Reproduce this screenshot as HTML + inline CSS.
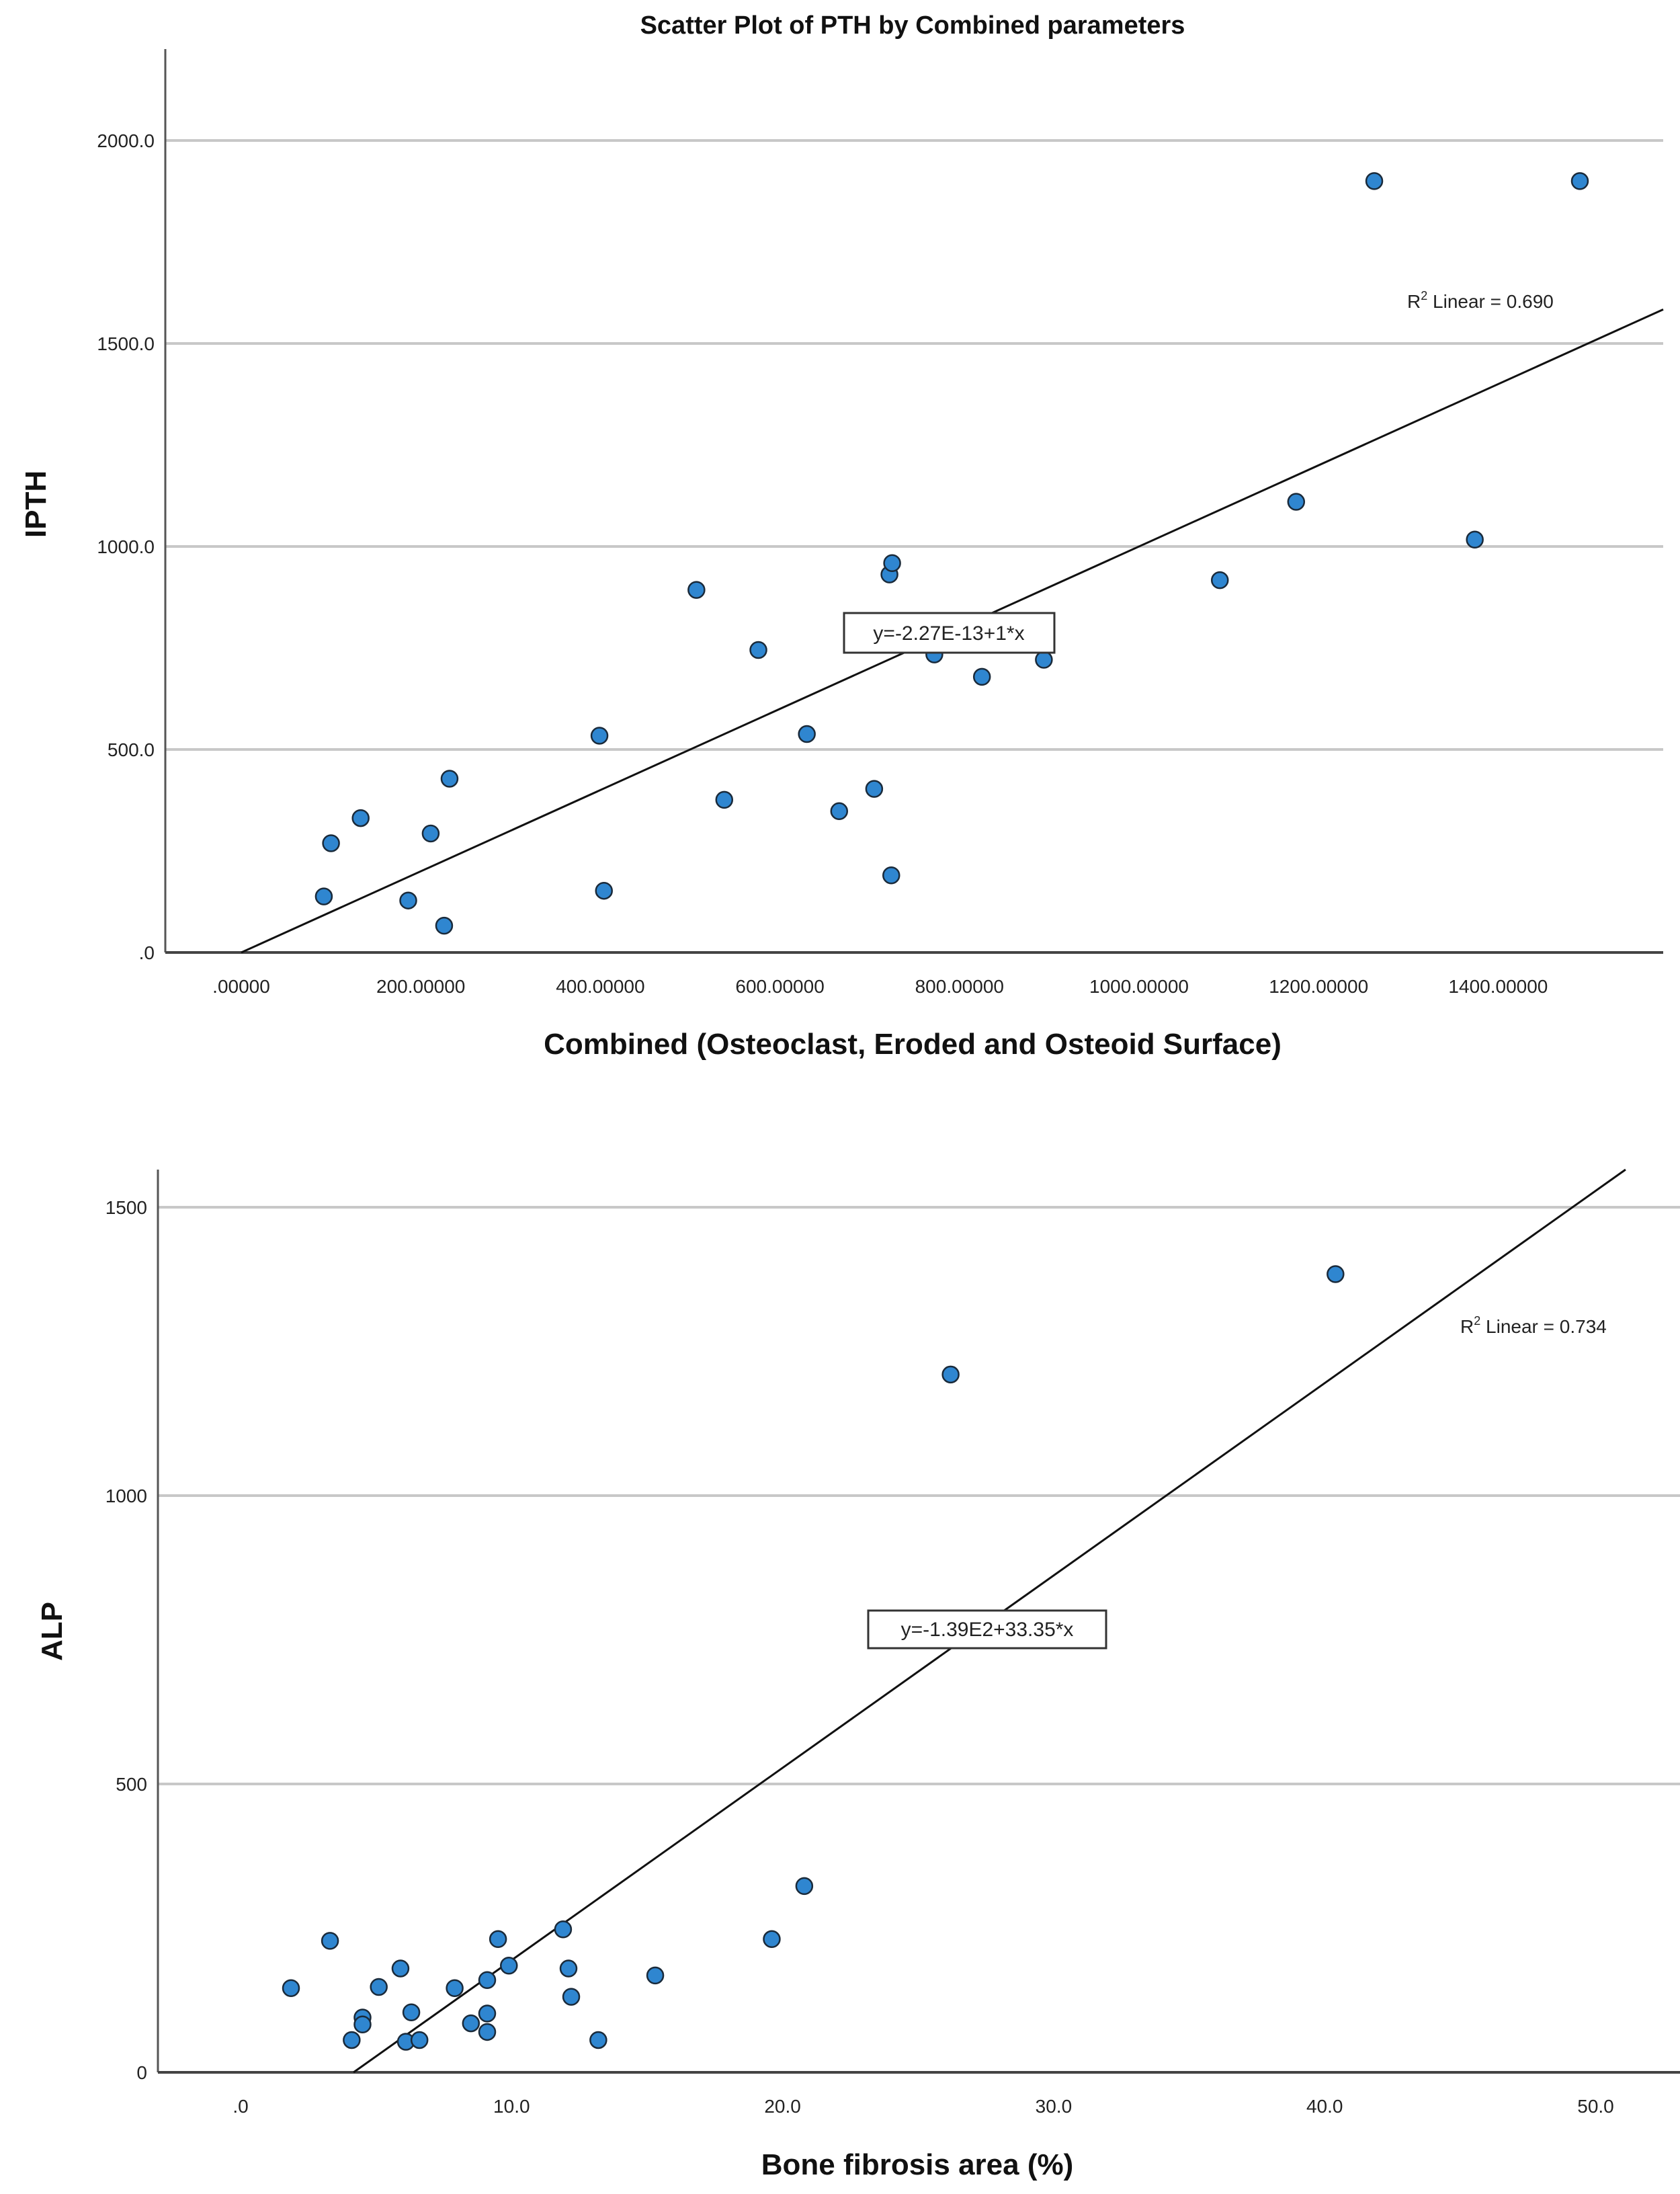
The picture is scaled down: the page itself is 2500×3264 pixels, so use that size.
<!DOCTYPE html>
<html><head><meta charset="utf-8"><style>
html,body{margin:0;padding:0;background:#fff;}
svg{display:block;font-family:"Liberation Sans",Arial,sans-serif;}
</style></head><body>
<svg id="svg" width="2500" height="3264" viewBox="0 0 2500 3264" xmlns="http://www.w3.org/2000/svg">
<rect width="2500" height="3264" fill="#fff"/>
<g id="topchart"></g>
<g id="botchart"></g>
</svg>
<script>
// Top chart data
const pthX = [92,100,133,186,211,226,232,399,404,507,538,576,630,666,705,722,725,724,772,825,894,1090,1175,1262,1374,1491];
const pthY = [138,269,331,128,293,66,428,534,152,893,376,745,538,348,403,931,959,190,734,679,721,917,1110,1900,1017,1900];
const pthXTicks = [0,200,400,600,800,1000,1200,1400];
const pthXTickLabels = [".00000","200.00000","400.00000","600.00000","800.00000","1000.00000","1200.00000","1400.00000"];
const pthYTicks = [0,500,1000,1500,2000];
const pthYTickLabels = [".0","500.0","1000.0","1500.0","2000.0"];
const pthFit = [-2.27e-13, 1];
// Bottom chart data
const alpX = [1.86,3.3,4.1,4.5,4.5,5.1,5.9,6.1,6.3,6.6,7.9,8.5,9.1,9.1,9.1,9.5,9.9,11.9,12.1,12.2,13.2,15.3,19.6,20.8,26.2,40.4];
const alpY = [146,228,56,95,83,148,180,53,104,56,146,85,160,102,70,231,185,248,180,131,56,168,231,323,1210,1384];
const alpXTicks = [0,10,20,30,40,50];
const alpXTickLabels = [".0","10.0","20.0","30.0","40.0","50.0"];
const alpYTicks = [0,500,1000,1500];
const alpYTickLabels = ["0","500","1000","1500"];
const alpFit = [-139, 33.35];

const NS="http://www.w3.org/2000/svg";
function mk(parent,tag,attrs,text){const e=document.createElementNS(NS,tag);for(const k in attrs)e.setAttribute(k,attrs[k]);if(text!==undefined)e.textContent=text;parent.appendChild(e);return e;}

function chart(g,cfg){
  const sx=v=>cfg.x0+v*cfg.kx, sy=v=>cfg.y0-v*cfg.ky;
  cfg.yTicks.forEach((t,i)=>{
    if(t>0){const l=mk(g,'line',{x1:cfg.left,x2:cfg.right,y1:sy(t),y2:sy(t),stroke:'#c8c8c8','stroke-width':4});
    
    }
    const tx=mk(g,'text',{x:cfg.left-16,y:sy(t)+10,'font-size':28,'text-anchor':'end',fill:'#222'},cfg.yLabels[i]);
    
    
  });
  cfg.xTicks.forEach((t,i)=>{
    const tx=mk(g,'text',{x:sx(t),y:cfg.y0+60,'font-size':28,'text-anchor':'middle',fill:'#222'},cfg.xLabels[i]);
    
    
  });
  const ya=mk(g,'line',{x1:cfg.left,x2:cfg.left,y1:cfg.top,y2:cfg.y0,stroke:'#555','stroke-width':3});
  
  
  const xa=mk(g,'line',{x1:cfg.left,x2:cfg.right,y1:cfg.y0,y2:cfg.y0,stroke:'#444','stroke-width':4});
  
  
  const a=cfg.fit[0],b=cfg.fit[1];
  let xs=Math.max(0,-a/b); let xe=(cfg.right-cfg.x0)/cfg.kx;
  const yTopVal=(cfg.y0-cfg.top)/cfg.ky; if(a+b*xe>yTopVal) xe=(yTopVal-a)/b;
  const fl=mk(g,'line',{x1:sx(xs),y1:sy(a+b*xs),x2:sx(xe),y2:sy(a+b*xe),stroke:'#111','stroke-width':3});
  
  
  cfg.xs.forEach((v,i)=>{
    const c=mk(g,'circle',{cx:sx(v),cy:sy(cfg.ys[i]),r:12,fill:'#2f86d0',stroke:'#1a2a3a','stroke-width':2.5});
    
    
  });
}

const topG=document.getElementById('topchart');
chart(topG,{left:246,right:2475,top:73,y0:1417,x0:359,kx:1.336,ky:0.604,xTicks:pthXTicks,xLabels:pthXTickLabels,yTicks:pthYTicks,yLabels:pthYTickLabels,xs:pthX,ys:pthY,fit:pthFit});
const botG=document.getElementById('botchart');
chart(botG,{left:235,right:2500,top:1740,y0:3083,x0:358,kx:40.33,ky:0.858,xTicks:alpXTicks,xLabels:alpXTickLabels,yTicks:alpYTicks,yLabels:alpYTickLabels,xs:alpX,ys:alpY,fit:alpFit});
</script>
<svg style="position:absolute;left:0;top:0" width="2500" height="3264" viewBox="0 0 2500 3264" xmlns="http://www.w3.org/2000/svg" font-family="Liberation Sans, Arial, sans-serif">
<text x="1358" y="50" font-size="38" font-weight="bold" text-anchor="middle" fill="#111">Scatter Plot of PTH by Combined parameters</text>
<text transform="translate(68,750) rotate(-90)" font-size="44" font-weight="bold" text-anchor="middle" fill="#111">IPTH</text>
<text x="1358" y="1568" font-size="44" font-weight="bold" text-anchor="middle" fill="#111">Combined (Osteoclast, Eroded and Osteoid Surface)</text>
<text x="2094" y="458" font-size="28" fill="#222">R<tspan font-size="18" dy="-12">2</tspan><tspan dy="12"> Linear = 0.690</tspan></text>
<g><rect x="1256" y="912" width="313" height="59" fill="#fff" stroke="#333" stroke-width="3"/><text x="1412" y="952" font-size="30" text-anchor="middle" fill="#222">y=-2.27E-13+1*x</text></g>
<text transform="translate(92,2427) rotate(-90)" font-size="44" font-weight="bold" text-anchor="middle" fill="#111">ALP</text>
<text x="1365" y="3235" font-size="44" font-weight="bold" text-anchor="middle" fill="#111">Bone fibrosis area (%)</text>
<text x="2173" y="1983" font-size="28" fill="#222">R<tspan font-size="18" dy="-12">2</tspan><tspan dy="12"> Linear = 0.734</tspan></text>
<g><rect x="1292" y="2396" width="354" height="56" fill="#fff" stroke="#333" stroke-width="3"/><text x="1469" y="2434" font-size="30" text-anchor="middle" fill="#222">y=-1.39E2+33.35*x</text></g>
</svg>
</body></html>
